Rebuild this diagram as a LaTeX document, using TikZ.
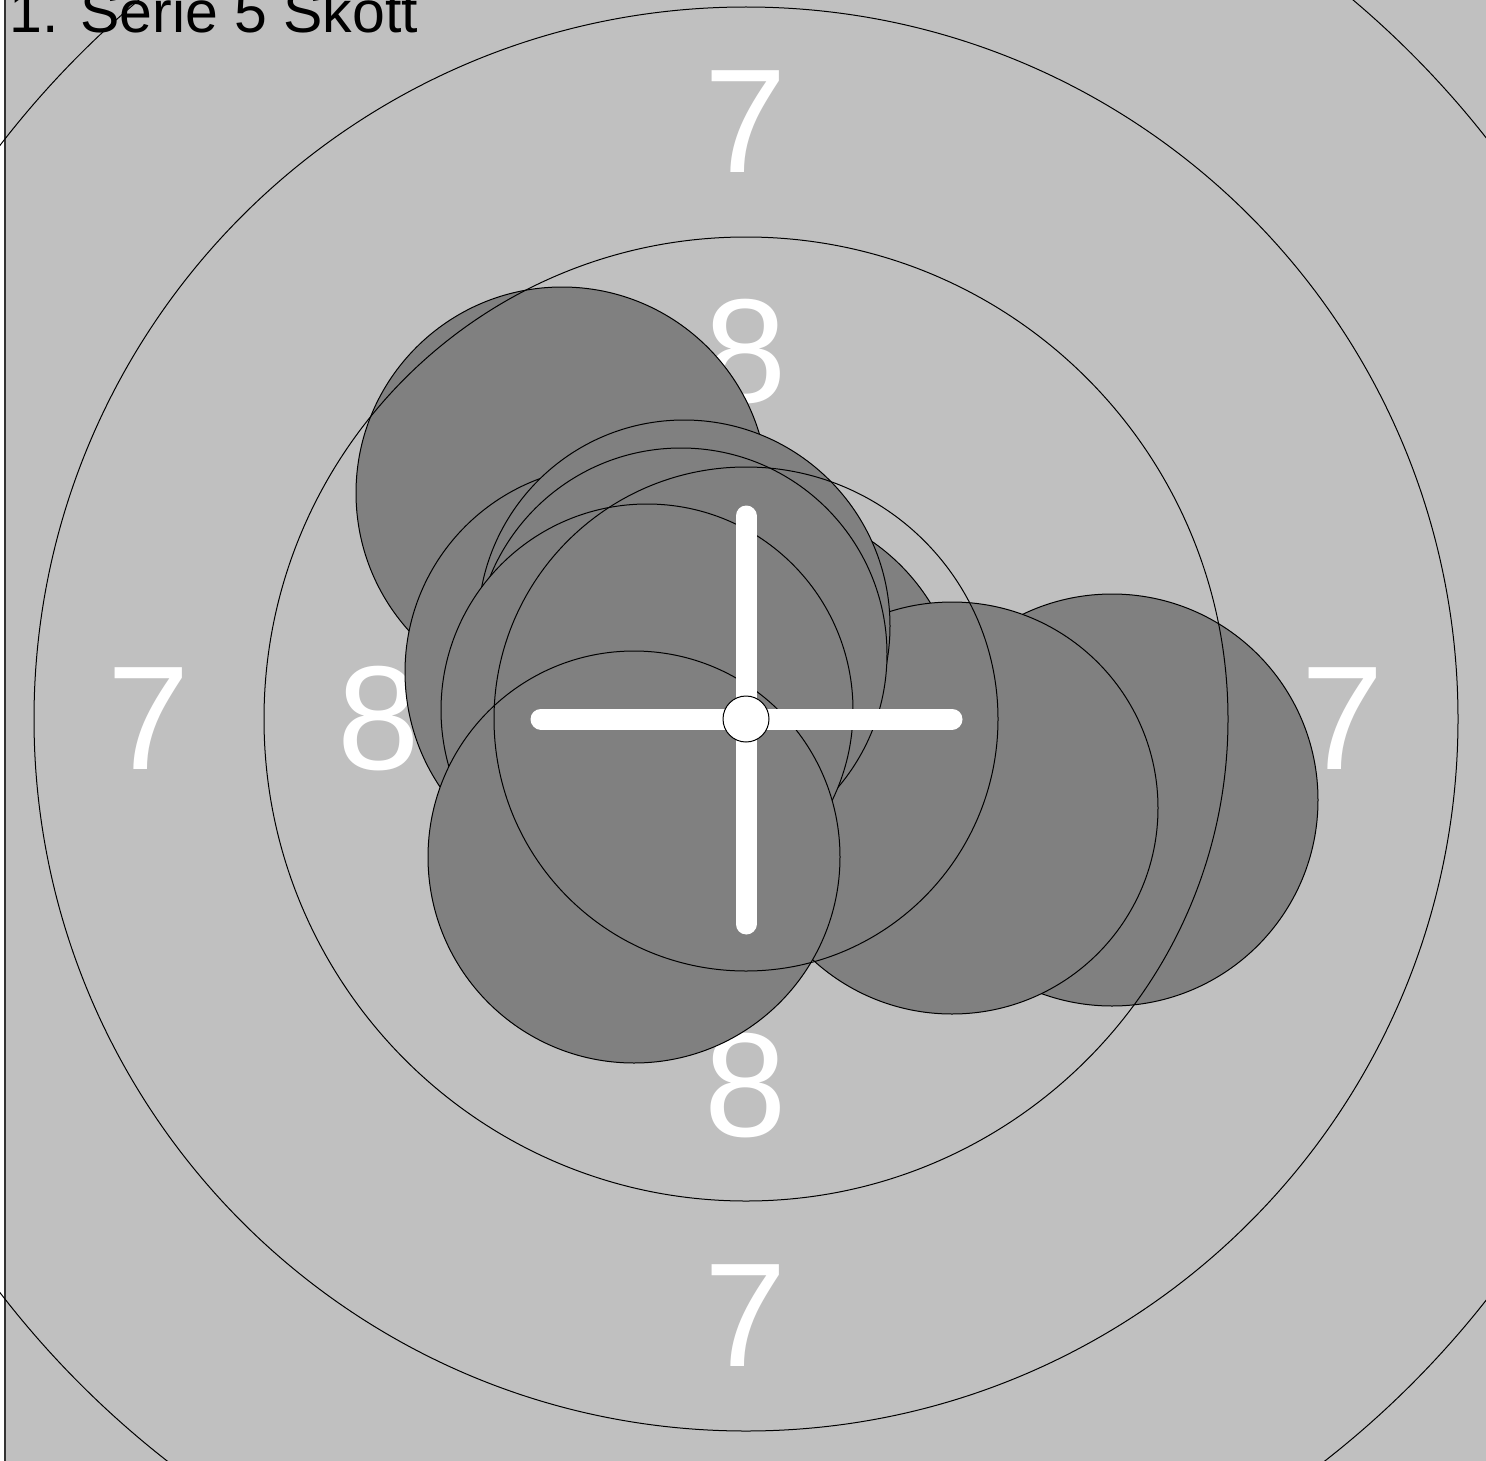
\documentclass[tikz,border=0pt]{standalone}
\usepackage{fontspec}
\setmainfont{Liberation Sans}
\usetikzlibrary{positioning}
\definecolor{targetgrey}{RGB}{192,192,192}
\definecolor{shotgrey}{RGB}{128,128,128}
\tikzset{
  ring/.style={draw=black, line width=1pt},
  shot/.style={draw=black, fill=shotgrey, line width=1pt},
  ringlabel/.style={text=white, inner sep=0pt, font=\fontsize{148}{150}\selectfont},
  crossbar/.style={white, line width=21pt, line cap=round}
}
\begin{document}
\begin{tikzpicture}[x=1pt, y=-1pt]
    \useasboundingbox (0,0) rectangle (1486,1461);
    \fill[targetgrey] (5,0) rectangle (1486,1461);
    \draw[line width=1.5pt, black!80] (5,0) -- (5,1461);
    \coordinate (centre) at (746,719);
    % ring numbers
    \node[ringlabel] (sevenN) at (746,122)  {7};
    \node[ringlabel] (sevenS) at (746,1316) {7};
    \node[ringlabel] (sevenW) at (149,719)  {7};
    \node[ringlabel] (sevenE) at (1343,719) {7};
    \node[ringlabel] (eightN) at (746,352)  {8};
    \node[ringlabel] (eightS) at (746,1086) {8};
    \node[ringlabel] (eightW) at (379,719)  {8};
    \node[ringlabel] (eightE) at (1113,719) {8};
    % shots
    \foreach \sx/\sy in {562/493, 611/672, 1112/800, 755/711, 952/808,
                         684/626, 681/654, 647/710, 634/857}
        \draw[shot] (\sx,\sy) circle (206);
    % rings
    \foreach \r in {252, 482, 712, 941}
        \draw[ring] (centre) circle (\r);
    % cross and centre
    \draw[crossbar] (746,516) -- (746,924);
    \draw[crossbar] (541,719) -- (952,719);
    \draw[fill=white, line width=1pt] (centre) circle (23);
    \node[anchor=base west, inner sep=0pt, font=\fontsize{59}{59}\selectfont] (title) at (9,33) {1. Serie 5 Skott};
\end{tikzpicture}
\end{document}
